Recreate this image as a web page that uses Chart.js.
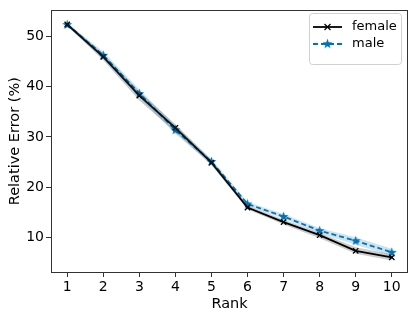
<!DOCTYPE html>
<html><head><meta charset="utf-8">
<script src="https://cdn.jsdelivr.net/npm/chart.js@4"></script>
<style>html,body{margin:0;padding:0;background:#fff}#wrap{width:415px;height:320px}</style>
</head><body><div id="wrap"><canvas id="c" width="415" height="320"></canvas></div>
<script>
const ranks = [1,2,3,4,5,6,7,8,9,10];
const female = [52.3,45.9,38.2,31.8,24.9,16.0,13.1,10.5,7.4,6.1];
const femaleLow = [52.0,45.2,37.2,31.0,24.4,15.6,12.6,9.9,6.8,5.5];
const femaleHigh = [52.6,46.5,39.0,32.5,25.4,16.4,13.6,11.0,8.1,6.7];
const male = [52.3,46.2,38.6,31.4,25.1,16.7,14.2,11.4,9.4,7.1];
const maleLow = [52.0,45.5,37.8,30.6,24.6,16.3,13.8,10.9,8.6,6.4];
const maleHigh = [52.6,46.9,39.4,32.2,25.6,17.1,14.7,11.9,10.1,7.8];
const yTicks = [10,20,30,40,50];
const blue = '#0173b2';

function pts(arr){ return ranks.map((r,i)=>({x:r,y:arr[i]})); }

function starImg(color){
  const c = document.createElement('canvas'); c.width=11; c.height=11;
  const g = c.getContext('2d'); g.fillStyle=color; g.beginPath();
  const cx=5.5, cy=5.8, R=5.2, r=2.1;
  for(let i=0;i<10;i++){const a=-Math.PI/2+i*Math.PI/5; const rr=i%2?r:R; g.lineTo(cx+rr*Math.cos(a), cy+rr*Math.sin(a));}
  g.closePath(); g.fill(); return c;
}
const star = starImg(blue);

const framePlugin = {id:'frame', afterDraw(chart){
  const {ctx, chartArea:a} = chart; ctx.save(); ctx.strokeStyle='#333'; ctx.lineWidth=1;
  ctx.strokeRect(Math.round(a.left)+0.5, Math.round(a.top)+0.5, Math.round(a.right-a.left)-1, Math.round(a.bottom-a.top));
  // legend
  const x0=309, y0=13, w=92, h=51;
  ctx.fillStyle='rgba(255,255,255,0.8)'; ctx.strokeStyle='#d0d0d0';
  ctx.beginPath(); ctx.roundRect(x0+0.5,y0+0.5,w,h,3); ctx.fill(); ctx.stroke();
  ctx.font='13px "DejaVu Sans"'; ctx.textBaseline='middle'; ctx.fillStyle='#000';
  // female
  let ly=y0+14; ctx.strokeStyle='#000'; ctx.lineWidth=1.8; ctx.setLineDash([]);
  ctx.beginPath(); ctx.moveTo(x0+4,ly); ctx.lineTo(x0+33,ly); ctx.stroke();
  ctx.lineWidth=1.2; ctx.beginPath(); ctx.moveTo(x0+15.5,ly-3); ctx.lineTo(x0+21.5,ly+3); ctx.moveTo(x0+21.5,ly-3); ctx.lineTo(x0+15.5,ly+3); ctx.stroke();
  ctx.fillText('female', x0+43, ly);
  ly=y0+31; ctx.strokeStyle=blue; ctx.lineWidth=1.8; ctx.setLineDash([5,3]);
  ctx.beginPath(); ctx.moveTo(x0+4,ly); ctx.lineTo(x0+33,ly); ctx.stroke(); ctx.setLineDash([]);
  ctx.drawImage(star, x0+18.5-5.5, ly-5.8);
  ctx.fillStyle='#000'; ctx.fillText('male', x0+43, ly);
  ctx.restore();
}};

new Chart(document.getElementById('c'), {
  type:'line',
  data:{datasets:[
    {label:'femaleLow', data:pts(femaleLow), borderWidth:0, pointRadius:0, fill:false, backgroundColor:'rgba(0,0,0,0.2)'},
    {label:'femaleHigh', data:pts(femaleHigh), borderWidth:0, pointRadius:0, fill:'-1', backgroundColor:'rgba(0,0,0,0.2)'},
    {label:'maleLow', data:pts(maleLow), borderWidth:0, pointRadius:0, fill:false, backgroundColor:'rgba(1,115,178,0.2)'},
    {label:'maleHigh', data:pts(maleHigh), borderWidth:0, pointRadius:0, fill:'-1', backgroundColor:'rgba(1,115,178,0.2)'},
    {label:'female', data:pts(female), borderColor:'#000', borderWidth:1.8, pointStyle:'crossRot', pointRadius:3.8, pointBorderColor:'#000', pointBorderWidth:1.3, fill:false},
    {label:'male', data:pts(male), borderColor:blue, borderWidth:1.8, borderDash:[5,3], pointStyle:star, pointRadius:5, fill:false}
  ]},
  options:{
    animation:false, responsive:false, devicePixelRatio:1,
    layout:{padding:{top:6,right:7,left:0,bottom:0}},
    plugins:{legend:{display:false}, tooltip:{enabled:false}},
    elements:{line:{tension:0}},
    scales:{
      x:{type:'linear', min:0.55, max:10.45,
        afterBuildTicks(s){ s.ticks = ranks.map(v=>({value:v})); },
        afterFit(s){ s.height=48; },
        grid:{drawOnChartArea:false, drawTicks:true, tickLength:5, color:'#333'},
        border:{display:false},
        ticks:{color:'#000', font:{family:'DejaVu Sans', size:14}, padding:2, maxRotation:0},
        title:{display:true, text:'Rank', color:'#000', font:{family:'DejaVu Sans', size:14.5}, padding:{top:0,bottom:7.5}}
      },
      y:{type:'linear', min:3.2, max:55.1,
        afterBuildTicks(s){ s.ticks = yTicks.map(v=>({value:v})); },
        afterFit(s){ s.width=51; },
        grid:{drawOnChartArea:false, drawTicks:true, tickLength:5, color:'#333'},
        border:{display:false},
        ticks:{color:'#000', font:{family:'DejaVu Sans', size:14}, padding:2},
        title:{display:true, text:'Relative Error (%)', color:'#000', font:{family:'DejaVu Sans', size:14.5}, padding:{top:7,bottom:0}}
      }
    }
  },
  plugins:[framePlugin]
});
</script></body></html>
